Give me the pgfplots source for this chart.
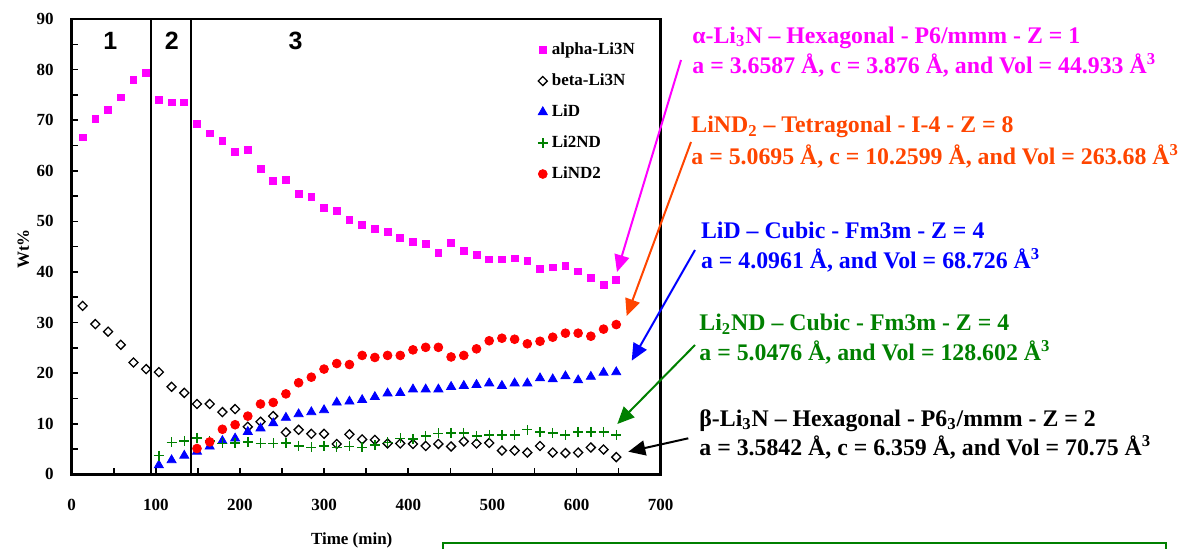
\documentclass[border=0pt]{standalone}
\usepackage{fontspec}
\setmainfont{Liberation Serif}
\newfontfamily\arialb{Liberation Sans}
\usepackage{pgfplots}
\usepackage{pgfplotstable}
\pgfplotsset{compat=1.18}
\usetikzlibrary{arrows.meta}
\definecolor{cMag}{RGB}{255,0,255}
\definecolor{cOr}{RGB}{255,69,0}
\definecolor{cBlue}{RGB}{0,0,255}
\definecolor{cGreen}{RGB}{0,128,0}
\definecolor{cRed}{RGB}{255,0,0}

\pgfplotstableread{
t alpha beta lid litwo lind
13.0 66.6 33.3 nan nan nan
28.1 70.2 29.7 nan nan nan
43.2 72.0 28.2 nan nan nan
58.3 74.5 25.6 nan nan nan
73.4 77.9 22.1 nan nan nan
88.5 79.4 20.8 nan nan nan
103.6 74.0 20.2 1.8 3.7 nan
118.7 73.5 17.3 2.8 6.3 nan
133.8 73.5 16.1 3.7 6.6 nan
148.9 69.2 13.9 4.5 7.2 5.1
164.0 67.4 13.9 5.5 6.6 6.4
179.1 65.9 12.3 6.6 6.1 8.9
194.2 63.8 12.9 7.1 6.2 9.8
209.3 64.1 9.4 8.4 6.4 11.5
224.4 60.3 10.4 9.1 6.1 13.9
239.5 58.0 11.5 10.1 6.1 14.2
254.6 58.2 8.3 11.2 6.2 15.9
269.7 55.4 8.8 11.9 5.6 18.1
284.8 54.9 8.0 12.3 5.3 19.2
299.9 52.6 8.0 12.7 5.6 20.8
315.0 52.1 6.0 14.2 5.3 21.9
330.1 50.3 7.9 14.4 5.5 21.7
345.2 49.3 6.9 14.7 5.3 23.5
360.3 48.5 6.8 15.3 5.8 23.1
375.4 47.9 6.1 16.0 6.3 23.5
390.5 46.8 6.1 16.1 7.1 23.5
405.6 46.0 6.0 16.8 7.0 24.6
420.7 45.5 5.6 16.8 7.6 25.1
435.8 43.7 6.0 16.8 8.1 25.1
450.9 45.8 5.5 17.3 8.2 23.2
466.0 44.2 6.5 17.5 8.2 23.5
481.1 43.3 6.1 17.7 7.6 24.8
496.2 42.5 6.2 18.0 7.8 26.4
511.3 42.5 4.7 17.5 7.8 26.9
526.4 42.7 4.7 18.0 7.8 26.7
541.5 42.2 4.3 18.0 8.8 25.8
556.6 40.6 5.6 19.0 8.4 26.3
571.7 40.9 4.3 18.8 8.2 27.1
586.8 41.2 4.2 19.4 7.8 27.9
601.9 40.1 4.3 18.6 8.4 27.9
617.0 38.9 5.3 19.3 8.4 27.3
632.1 37.5 4.9 20.1 8.4 28.7
647.2 38.5 3.4 20.2 7.8 29.6
}\data

\newcommand{\tfont}{\bfseries\fontsize{8.5}{10}\selectfont}
\newcommand{\afont}{\bfseries\fontsize{11.9}{14}\selectfont}

\begin{document}
\begin{tikzpicture}
\useasboundingbox (0,0) rectangle (593.5pt,274pt);
\begin{axis}[
  at={(35.85pt,36.85pt)}, anchor=south west,
  scale only axis, width=294.5pt, height=227.65pt,
  xmin=0, xmax=700, ymin=0, ymax=90,
  xtick distance=100, ytick distance=10,
  minor x tick num=1, minor y tick num=1,
  tick align=inside, tick pos=left,
  major tick length=3pt, minor tick length=3pt,
  every tick/.style={black, line width=0.8pt},
  axis line style={line width=1.3pt},
  /pgf/number format/assume math mode=true,
  tick label style={font=\tfont},
  xticklabel style={yshift=-9pt},
  yticklabel style={xshift=-5.5pt},
  xlabel={Time (min)},
  xlabel style={at={(axis description cs:0.4754,-0.1443)}, anchor=center, font=\tfont},
  ylabel={Wt\%},
  ylabel style={at={(axis description cs:-0.082,0.495)}, anchor=center, font=\tfont},
  legend style={at={(axis description cs:0.7805,0.9666)}, anchor=north west,
    draw=none, fill=none, font=\tfont, row sep=4.1pt, cells={anchor=west}},
  legend image code/.code={\draw[mark repeat=2,mark phase=2] plot coordinates {(0cm,0cm)(0.1cm,0cm)(0.2cm,0cm)};},
  clip=false,
]
\addplot[only marks, mark=square*, mark size=1.7pt, color=cMag] table[x=t,y=alpha]{\data};
\addlegendentry{alpha-Li3N}
\addplot[only marks, mark=square, mark size=1.6pt, mark options={rotate=45, line width=0.65pt}, color=black] table[x=t,y=beta]{\data};
\addlegendentry{beta-Li3N}
\addplot[only marks, mark=triangle*, mark size=2.6pt, color=cBlue] table[x=t,y=lid]{\data};
\addlegendentry{LiD}
\addplot[only marks, mark=+, mark size=2.5pt, mark options={line width=0.7pt}, color=cGreen] table[x=t,y=litwo]{\data};
\addlegendentry{Li2ND}
\addplot[only marks, mark=*, mark size=2.2pt, color=cRed] table[x=t,y=lind]{\data};
\addlegendentry{LiND2}
\draw[line width=1pt] (axis cs:94,0) -- (axis cs:94,90);
\draw[line width=1pt] (axis cs:142,0) -- (axis cs:142,90);
\node[font=\arialb\bfseries\fontsize{12.5}{14}\selectfont] at (axis cs:46,85.7) {1};
\node[font=\arialb\bfseries\fontsize{12.5}{14}\selectfont] at (axis cs:119,85.7) {2};
\node[font=\arialb\bfseries\fontsize{12.5}{14}\selectfont] at (axis cs:266,85.7) {3};
\end{axis}
\begin{scope}[x=0.5pt,y=-0.5pt,shift={(0pt,274pt)}]
\tikzset{arr/.style={line width=1pt, -{Triangle[length=8.5pt,width=7.5pt]}}}
\draw[cMag, arr] (681,60) -- (617,272);
\draw[cOr, arr] (691,142) -- (626.7,316);
\draw[cBlue, arr] (695,250) -- (631.7,360.7);
\draw[cGreen, arr] (695,345) -- (617.3,424);
\draw[black, arr] (688.3,438.3) -- (628.3,451.7);
\node[anchor=base west, inner sep=0, text=cMag, font=\afont] at (692,43.3) {α-Li\textsubscript{3}N -- Hexagonal - P6/mmm - Z = 1};
\node[anchor=base west, inner sep=0, text=cMag, font=\afont] at (692,73.3) {a = 3.6587 Å, c = 3.876 Å, and Vol = 44.933 Å\textsuperscript{3}};
\node[anchor=base west, inner sep=0, text=cOr, font=\afont] at (691,132.7) {LiND\textsubscript{2} -- Tetragonal - I-4 - Z = 8};
\node[anchor=base west, inner sep=0, text=cOr, font=\afont] at (691,164) {a = 5.0695 Å, c = 10.2599 Å, and Vol = 263.68 Å\textsuperscript{3}};
\node[anchor=base west, inner sep=0, text=cBlue, font=\afont] at (700.7,238.3) {LiD -- Cubic - Fm3m - Z = 4};
\node[anchor=base west, inner sep=0, text=cBlue, font=\afont] at (700.7,268.3) {a = 4.0961 Å, and Vol = 68.726 Å\textsuperscript{3}};
\node[anchor=base west, inner sep=0, text=cGreen, font=\afont] at (699,330.7) {Li\textsubscript{2}ND -- Cubic - Fm3m - Z = 4};
\node[anchor=base west, inner sep=0, text=cGreen, font=\afont] at (699,360) {a = 5.0476 Å, and Vol = 128.602 Å\textsuperscript{3}};
\node[anchor=base west, inner sep=0, text=black, font=\afont] at (699,426) {β-Li\textsubscript{3}N -- Hexagonal - P6\textsubscript{3}/mmm - Z = 2};
\node[anchor=base west, inner sep=0, text=black, font=\afont] at (699,455) {a = 3.5842 Å, c = 6.359 Å, and Vol = 70.75 Å\textsuperscript{3}};
\draw[cGreen, line width=1pt] (443,570) -- (443,543) -- (1166,543) -- (1166,570);
\end{scope}
\end{tikzpicture}
\end{document}
